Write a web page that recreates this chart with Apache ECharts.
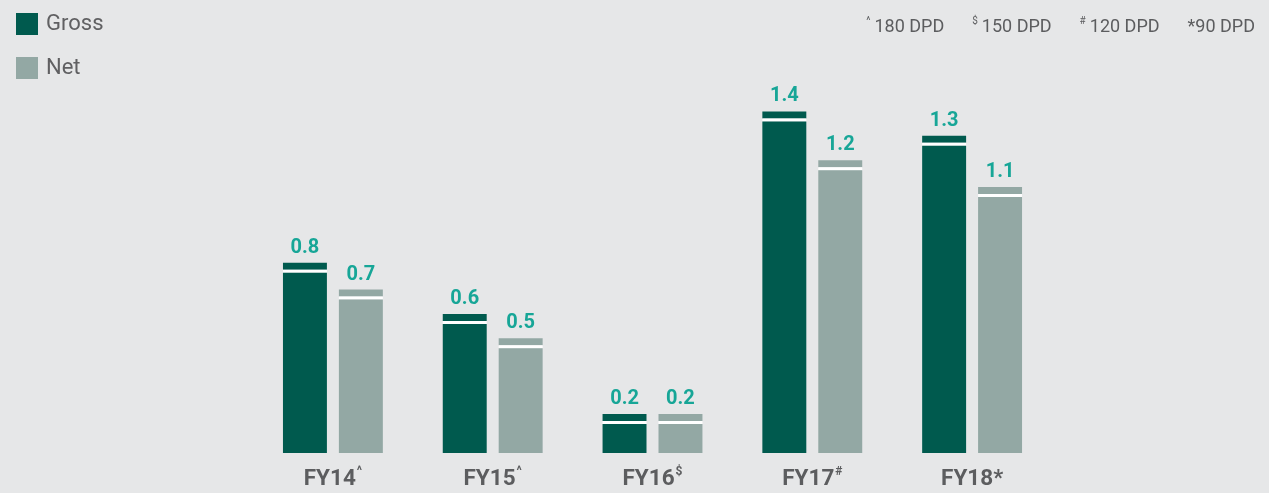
<!DOCTYPE html>
<html>
<head>
<meta charset="utf-8">
<script src="https://cdn.jsdelivr.net/npm/echarts@6/dist/echarts.min.js"></script>
<style>
  html, body { margin: 0; padding: 0; background: #e6e7e8; }
  #main { width: 1269px; height: 493px; }
</style>
</head>
<body>
<div id="main"></div>
<script>
// 数据
var categories = ['FY14', 'FY15', 'FY16', 'FY17', 'FY18'];
var catMarks = ['^', '^', '$', '#', '*'];
var grossData = [0.78, 0.57, 0.16, 1.40, 1.30];
var netData = [0.67, 0.47, 0.16, 1.20, 1.09];
var notes = [['^', '180 DPD'], ['$', '150 DPD'], ['#', '120 DPD'], ['', '*90 DPD']];

var GROSS_COLOR = '#005a4e';
var NET_COLOR = '#93a8a4';
var LABEL_COLOR = '#17a697';
var TEXT_COLOR = '#5c5d5f';

// 带顶部白线的柱子
function capBar(offsetRatio) {
    return function (params, api) {
        var cat = api.value(0);
        var val = api.value(1);
        var top = api.coord([cat, val]);
        var base = api.coord([cat, 0]);
        var band = api.size([1, 0])[0];
        var w = band * 0.275;
        var x = top[0] + band * offsetRatio - w / 2;
        var color = api.visual('color');
        return {
            type: 'group',
            children: [
                { type: 'rect', shape: { x: x, y: top[1], width: w, height: 7 }, style: { fill: color } },
                { type: 'rect', shape: { x: x, y: top[1] + 7, width: w, height: 3 }, style: { fill: '#ffffff' } },
                { type: 'rect', shape: { x: x, y: top[1] + 10, width: w, height: base[1] - top[1] - 10 }, style: { fill: color } },
                {
                    type: 'text',
                    style: {
                        x: x + w / 2, y: top[1] - 5,
                        text: val.toFixed(1),
                        fill: LABEL_COLOR,
                        font: 'bold 20px Roboto',
                        align: 'center', verticalAlign: 'bottom'
                    }
                }
            ]
        };
    };
}

function toItems(arr) {
    var out = [];
    for (var i = 0; i < arr.length; i++) {
        out.push([i, arr[i]]);
    }
    return out;
}

var noteText = [];
for (var i = 0; i < notes.length; i++) {
    noteText.push((notes[i][0] ? '{s|' + notes[i][0] + '}' : '') + '{t|' + notes[i][1] + '}');
}

var myChart = echarts.init(document.getElementById('main'));
var option = {
    backgroundColor: '#e6e7e8',
    animation: false,
    legend: {
        orient: 'vertical',
        left: 11,
        top: 8,
        itemWidth: 22,
        itemHeight: 22,
        itemGap: 22,
        icon: 'rect',
        textStyle: { color: '#606062', fontSize: 22, fontFamily: 'Roboto', padding: [0, 0, 0, 3] },
        data: ['Gross', 'Net']
    },
    graphic: [{
        type: 'text',
        right: 14,
        top: 16,
        style: {
            text: noteText.join('{g| }'),
            rich: {
                s: { fontSize: 10, fill: TEXT_COLOR, fontFamily: 'Roboto', verticalAlign: 'top', lineHeight: 22, padding: [0, 4, 0, 0] },
                t: { fontSize: 18, fill: TEXT_COLOR, fontFamily: 'Roboto', lineHeight: 22 },
                g: { fontSize: 16, width: 28 }
            }
        }
    }],
    grid: { left: 253, right: 217, top: 87, bottom: 40 },
    xAxis: {
        type: 'category',
        data: categories,
        axisLine: { show: false },
        axisTick: { show: false },
        axisLabel: {
            margin: 13,
            formatter: function (v, idx) {
                var m = catMarks[idx];
                return '{a|' + v + '}{' + (m === '*' ? 'st' : 's') + '|' + m + '}';
            },
            rich: {
                a: { fontSize: 22.5, fontWeight: 'bold', color: TEXT_COLOR, fontFamily: 'Roboto', lineHeight: 26 },
                s: { fontSize: 12, fontWeight: 'bold', color: TEXT_COLOR, fontFamily: 'Roboto', lineHeight: 26, verticalAlign: 'top', padding: [0, 0, 0, 1] },
                st: { fontSize: 22, fontWeight: 'bold', color: TEXT_COLOR, fontFamily: 'Roboto', lineHeight: 26, padding: [0, 0, 0, 0] }
            }
        }
    },
    yAxis: {
        type: 'value',
        min: 0,
        max: 1.5,
        show: false,
        splitLine: { show: false }
    },
    series: [
        {
            name: 'Gross',
            type: 'custom',
            itemStyle: { color: GROSS_COLOR },
            renderItem: capBar(-0.175),
            data: toItems(grossData)
        },
        {
            name: 'Net',
            type: 'custom',
            itemStyle: { color: NET_COLOR },
            renderItem: capBar(0.175),
            data: toItems(netData)
        }
    ]
};
myChart.setOption(option);
</script>
</body>
</html>
